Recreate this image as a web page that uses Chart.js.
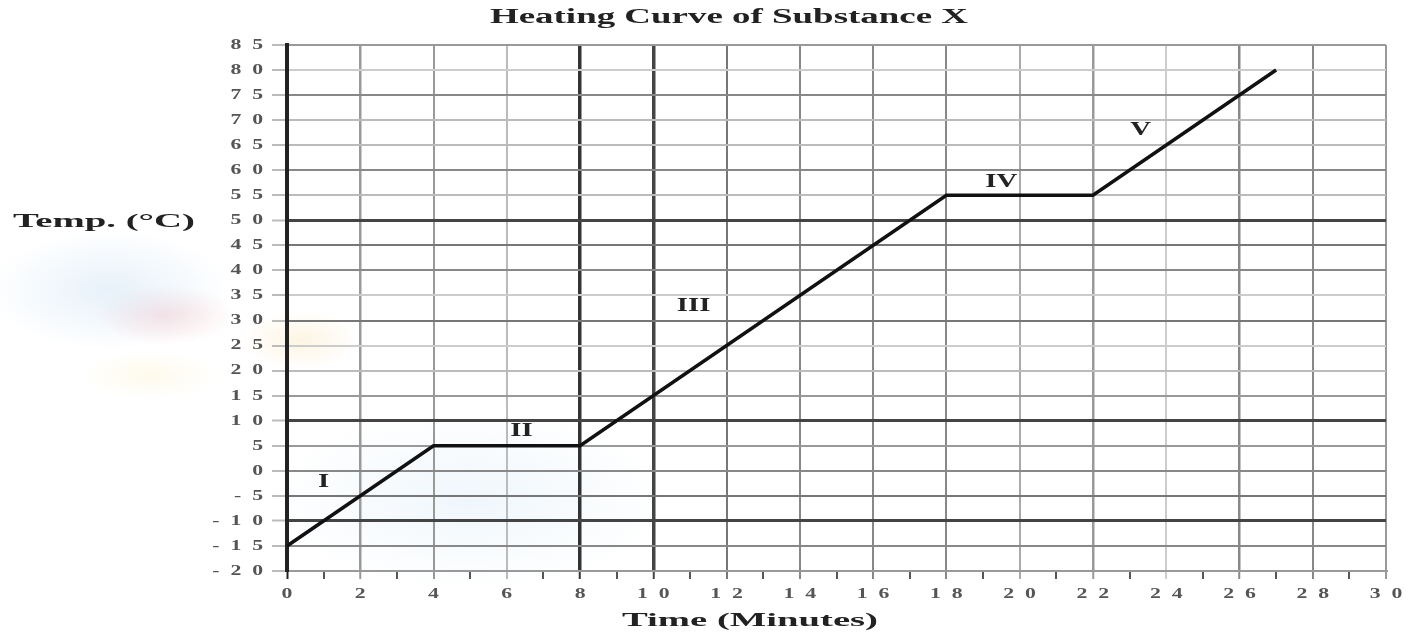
<!DOCTYPE html>
<html>
<head>
<meta charset="utf-8">
<title>Heating Curve of Substance X</title>
<script src="https://cdn.jsdelivr.net/npm/chart.js@4"></script>
<style>
  html, body { margin: 0; padding: 0; background: #fff; }
  #wrap {
    width: 1412px; height: 632px; position: relative;
    background:
      radial-gradient(ellipse 120px 60px at 110px 290px, rgba(185,215,240,0.35), transparent),
      radial-gradient(ellipse 70px 30px at 165px 315px, rgba(240,175,180,0.35), transparent),
      radial-gradient(ellipse 60px 30px at 300px 340px, rgba(250,225,175,0.35), transparent),
      radial-gradient(ellipse 70px 25px at 150px 375px, rgba(250,240,190,0.30), transparent),
      radial-gradient(ellipse 200px 90px at 470px 500px, rgba(210,230,245,0.35), transparent),
      #fff;
  }
</style>
</head>
<body>
<div id="wrap"><canvas id="heatChart" width="1412" height="632"></canvas></div>
<script>
// Données
const timeMin = [0, 4, 8, 18, 22, 27];
const tempC = [-15, 5, 5, 55, 55, 80];

const phaseNames = ["I", "II", "III", "IV", "V"];
const phaseTime = [1.0, 6.4, 11.1, 19.5, 23.3];
const phaseTemp = [-2.4, 7.8, 32.9, 57.5, 68];

const xMajorTicks = [0, 2, 4, 6, 8, 10, 12, 14, 16, 18, 20, 22, 24, 26, 28, 30];
const xMinorTicks = [1, 3, 5, 7, 9, 11, 13, 15, 17, 19, 21, 23, 25, 27, 29];
const yTicks = [-20, -15, -10, -5, 0, 5, 10, 15, 20, 25, 30, 35, 40, 45, 50, 55, 60, 65, 70, 75, 80, 85];

// Style des lignes de grille (valeur -> [couleur, épaisseur])
const xGridStyle = {
  0: ["#222", 3], 2: ["#999", 2.5], 4: ["#999", 2], 6: ["#bbb", 2], 8: ["#333", 3.5],
  10: ["#444", 3.5], 12: ["#777", 2], 14: ["#888", 2], 16: ["#888", 2], 18: ["#888", 2],
  20: ["#aaa", 2], 22: ["#999", 2.5], 24: ["#ccc", 2], 26: ["#888", 2.5], 28: ["#888", 2], 30: ["#999", 2]
};
const yGridStyle = {
  85: ["#999", 2], 80: ["#ccc", 2], 75: ["#888", 2], 70: ["#bbb", 2], 65: ["#bbb", 2],
  60: ["#888", 2], 55: ["#bbb", 2], 50: ["#444", 3], 45: ["#777", 2], 40: ["#888", 2],
  35: ["#ccc", 2], 30: ["#777", 2], 25: ["#ccc", 2], 20: ["#bbb", 2], 15: ["#999", 2],
  10: ["#444", 3], 5: ["#999", 2], 0: ["#888", 2], "-5": ["#777", 2], "-10": ["#444", 3],
  "-15": ["#888", 2], "-20": ["#999", 2]
};

const spaced = v => String(v).split("").join("\u2002");

// Texte étiré horizontalement (l'original est une image élargie)
function drawStretched(ctx, text, cx, cy, font, width, scaleX, align, color) {
  ctx.save();
  ctx.font = font;
  ctx.fillStyle = color || "#222";
  ctx.textAlign = align || "center";
  ctx.textBaseline = "middle";
  const w = ctx.measureText(text).width;
  const sx = width ? width / w : scaleX;
  ctx.translate(cx, cy);
  ctx.scale(sx, 1);
  ctx.fillText(text, 0, 0);
  ctx.restore();
}

const tickFontStr = "bold 15px 'Liberation Serif'";

const textPlugin = {
  id: "heatingText",
  afterDraw(chart) {
    const ctx = chart.ctx;
    const xs = chart.scales.x, ys = chart.scales.y;
    const area = chart.chartArea;

    // Graduations
    xMajorTicks.forEach(v => {
      drawStretched(ctx, spaced(v), xs.getPixelForValue(v), area.bottom + 23, tickFontStr, null, 1.45, "center", "#555");
    });
    yTicks.forEach(v => {
      drawStretched(ctx, spaced(v), area.left - 24, ys.getPixelForValue(v), tickFontStr, null, 1.45, "right", "#555");
    });

    drawStretched(ctx, "Heating Curve of Substance X", 729, 18, "bold 20px 'Liberation Serif'", 478);
    drawStretched(ctx, "Temp. (°C)", 104, 222, "bold 18px 'Liberation Serif'", 182);
    drawStretched(ctx, "Time (Minutes)", 750, 621, "bold 19px 'Liberation Serif'", 256);
    phaseNames.forEach((name, i) => {
      drawStretched(ctx, name, xs.getPixelForValue(phaseTime[i]), ys.getPixelForValue(phaseTemp[i]),
        "bold 18px 'Liberation Serif'", null, 1.6);
    });
  }
};

new Chart(document.getElementById("heatChart"), {
  type: "line",
  data: {
    datasets: [{
      label: "Température",
      data: timeMin.map((t, i) => ({ x: t, y: tempC[i] })),
      borderColor: "#111",
      borderWidth: 3.5,
      pointRadius: 0,
      tension: 0,
      fill: false
    }]
  },
  options: {
    responsive: false,
    animation: false,
    devicePixelRatio: 1,
    layout: { padding: { top: 45, right: 26, left: 0, bottom: 0 } },
    plugins: { legend: { display: false }, title: { display: false }, tooltip: { enabled: false } },
    scales: {
      x: {
        type: "linear",
        min: 0, max: 30,
        afterBuildTicks: s => {
          s.ticks = [...xMajorTicks, ...xMinorTicks].sort((a, b) => a - b).map(v => ({ value: v }));
        },
        afterFit: s => { s.height = 61; },
        ticks: { display: false },
        grid: {
          color: c => xMajorTicks.includes(c.tick.value) ? xGridStyle[c.tick.value][0] : "rgba(0,0,0,0)",
          lineWidth: c => xMajorTicks.includes(c.tick.value) ? xGridStyle[c.tick.value][1] : 0,
          tickColor: c => xMajorTicks.includes(c.tick.value) ? xGridStyle[c.tick.value][0] : "#555",
          tickWidth: 2,
          tickLength: 8
        },
        border: { color: "#999", width: 2 }
      },
      y: {
        min: -20, max: 85,
        afterBuildTicks: s => { s.ticks = yTicks.map(v => ({ value: v })); },
        afterFit: s => { s.width = 287; },
        ticks: { display: false },
        grid: {
          color: c => yGridStyle[c.tick.value][0],
          lineWidth: c => yGridStyle[c.tick.value][1],
          tickColor: "#bbb",
          tickWidth: 2,
          tickLength: 15
        },
        border: { color: "#222", width: 4 }
      }
    }
  },
  plugins: [textPlugin]
});
</script>
</body>
</html>
